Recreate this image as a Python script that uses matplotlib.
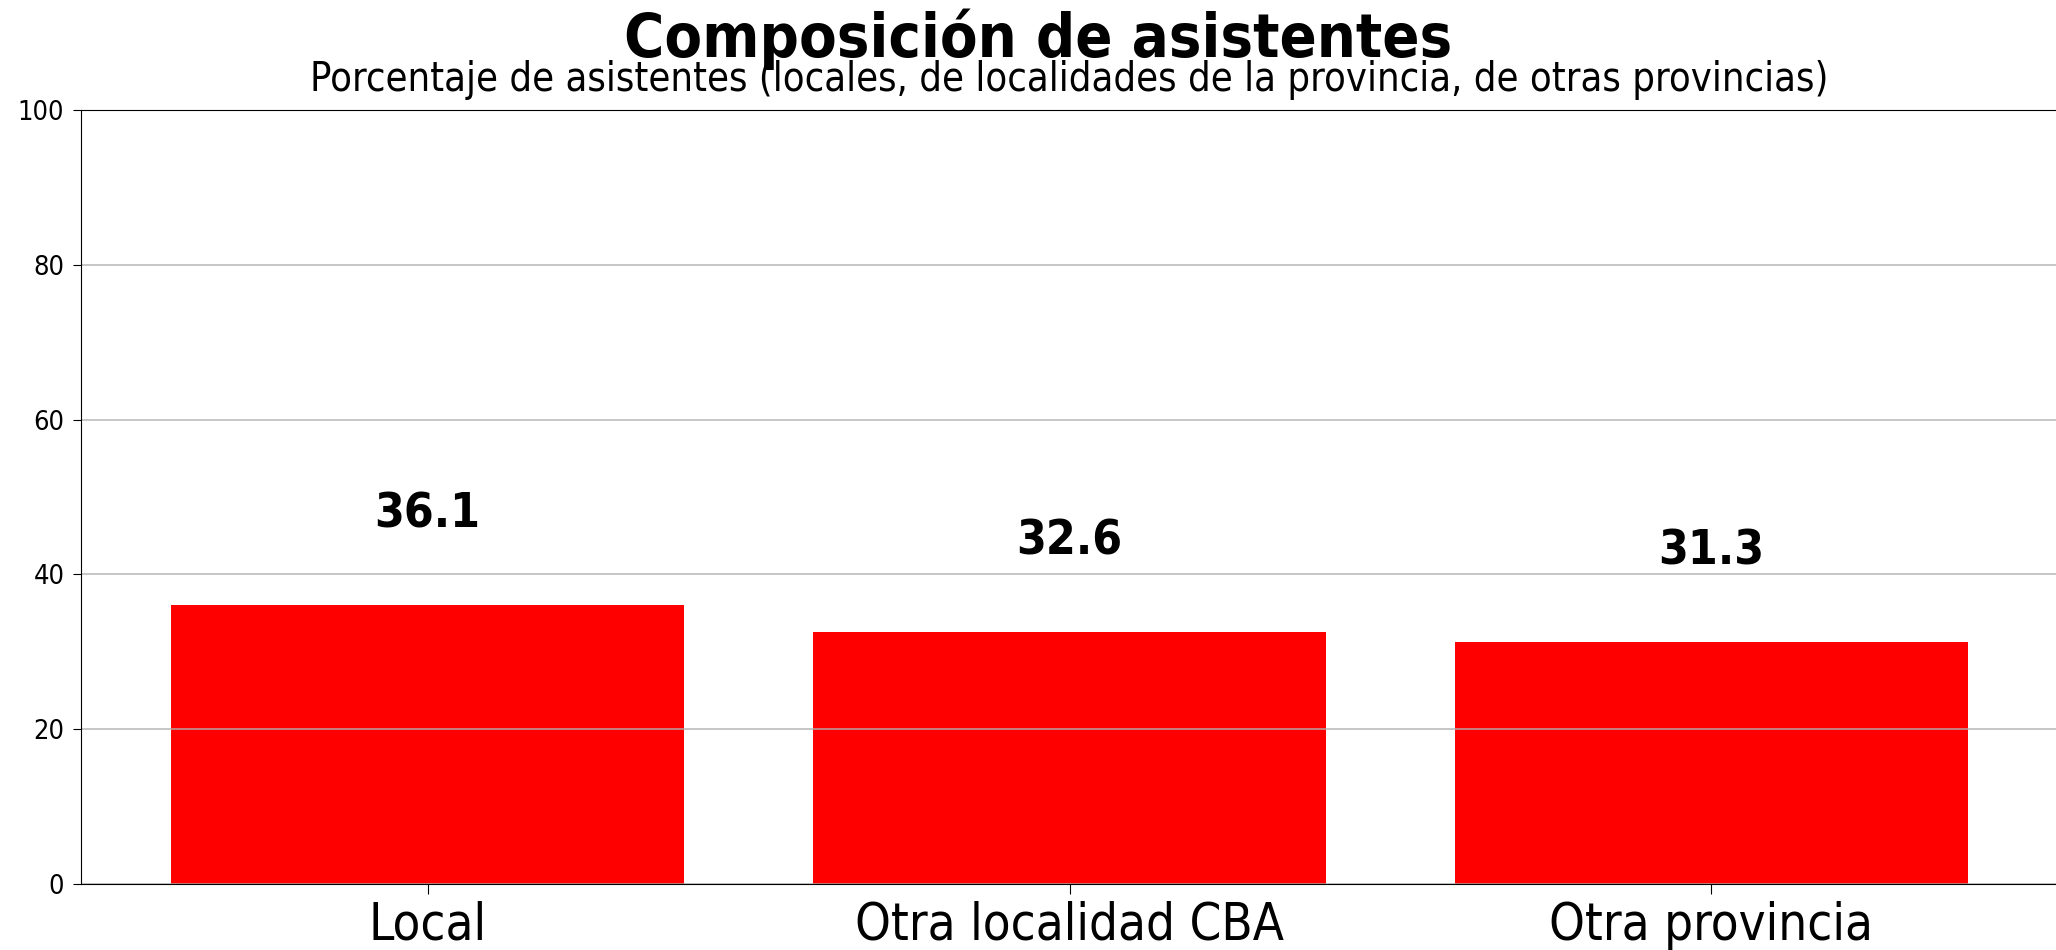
import matplotlib
matplotlib.use("Agg")
import matplotlib.pyplot as plt

categorias = ["Local", "Otra localidad CBA", "Otra provincia"]
porcentajes = [36.1, 32.6, 31.3]
yticks = [0, 20, 40, 60, 80, 100]

plt.rcParams["font.family"] = "DejaVu Sans"
plt.rcParams["font.stretch"] = "condensed"

fig = plt.figure(figsize=(20.56, 9.5), dpi=100)
ax = fig.add_axes([0.0394, 0.0695, 0.9616, 0.8147])

x = range(len(categorias))
ax.bar(x, porcentajes, color="red", width=0.8)
ax.set_xticks(list(x))
ax.set_xticklabels(categorias, fontsize=36.5)
ax.set_yticks(yticks)
ax.tick_params(axis="y", labelsize=19.5, length=6, pad=6)
ax.tick_params(axis="x", length=7, pad=5)
ax.set_ylim(0, 100)
ax.grid(axis="y", color="#b0b0b0", linewidth=1.2, alpha=0.85)
ax.set_axisbelow("line")  # grid above bars, below spines

for i, v in enumerate(porcentajes):
    ax.text(i, v + 10, f"{v}", ha="center", va="baseline",
            fontsize=34.5, fontweight="bold")

ax.set_title("Porcentaje de asistentes (locales, de localidades de la provincia, de otras provincias)",
             fontsize=28.5, pad=14)
fig.text(0.505, 1 - 57 / 950, "Composición de asistentes", ha="center",
         va="baseline", fontsize=44, fontweight="bold")

fig.savefig("out.png", dpi=100)
